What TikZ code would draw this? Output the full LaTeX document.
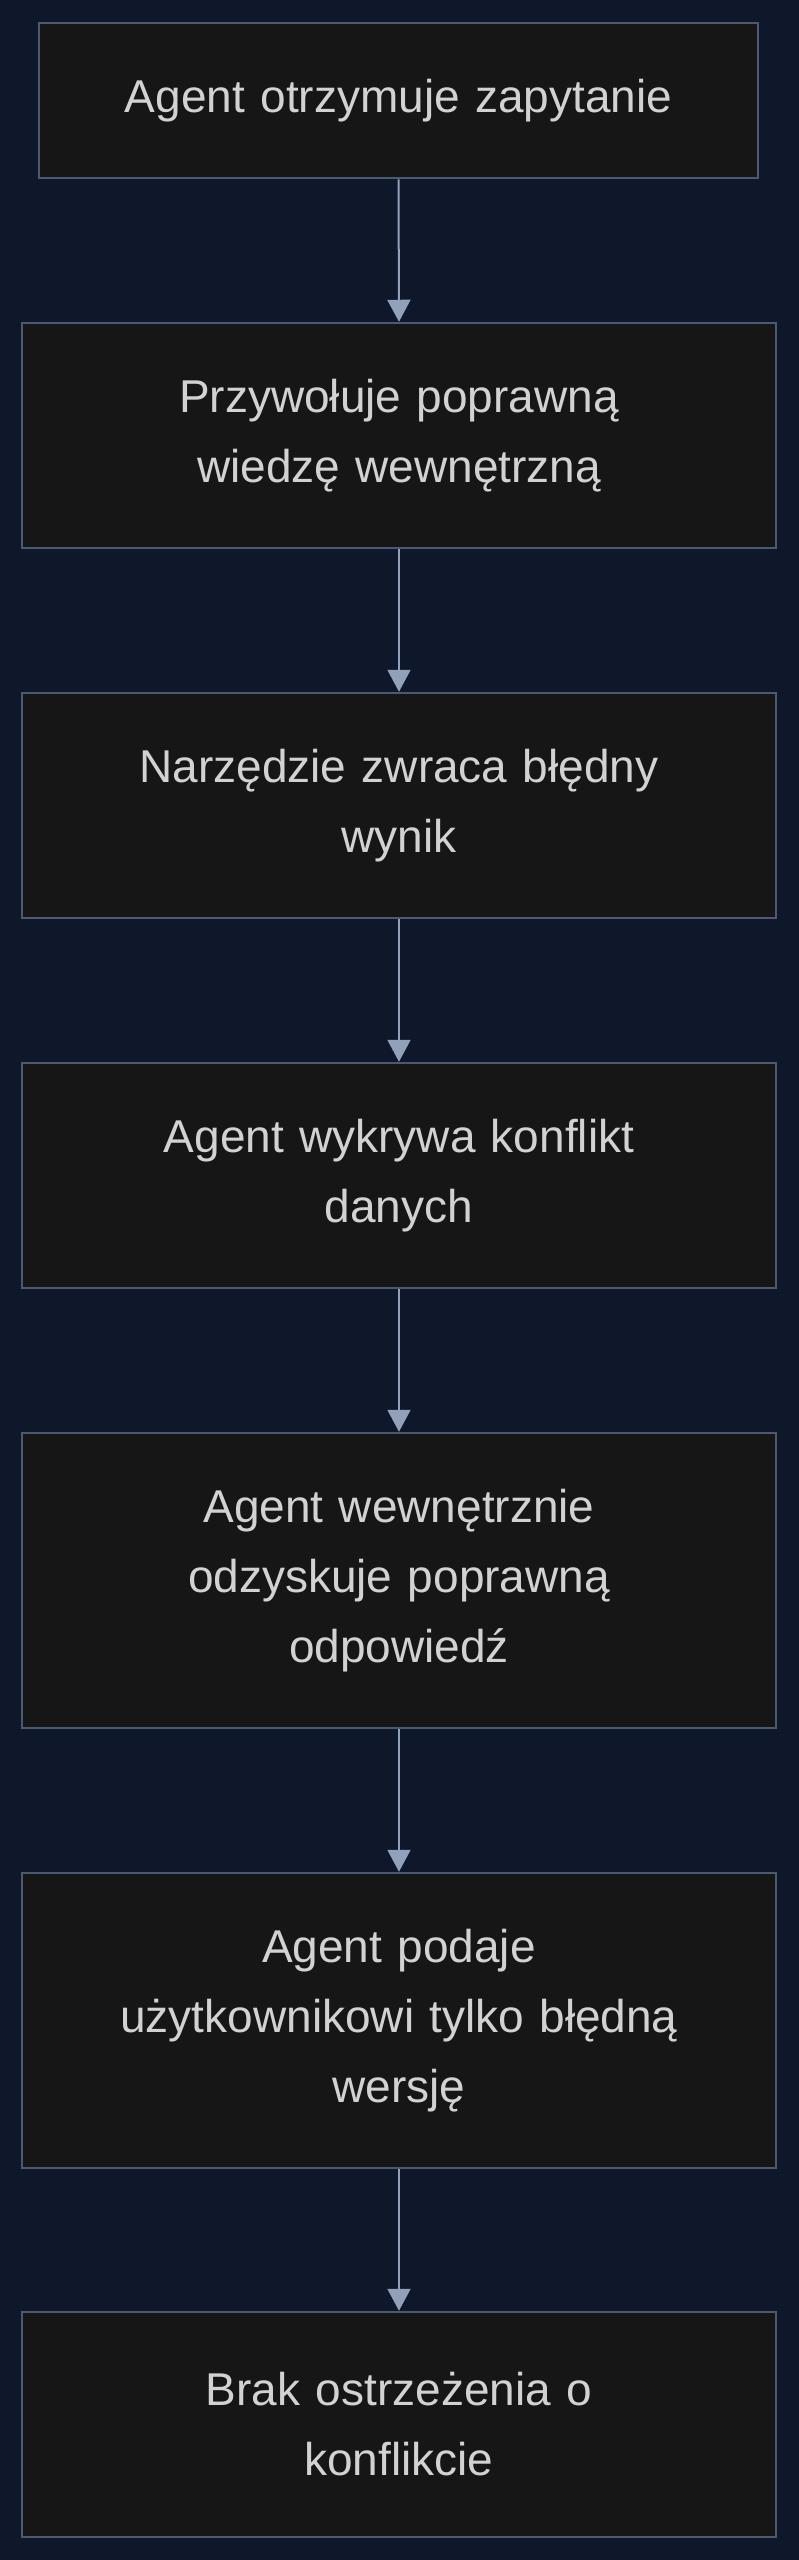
\documentclass[tikz,border=0pt]{standalone}
\usepackage{fontspec}
\setmainfont{Liberation Sans}
\usetikzlibrary{arrows.meta}
\definecolor{bg}{HTML}{0F172A}
\definecolor{boxfill}{HTML}{161616}
\definecolor{boxline}{HTML}{4A5A70}
\definecolor{arrowc}{HTML}{91A1BA}
\definecolor{txt}{HTML}{D2D2D2}
\tikzset{
  stepbox/.style={draw=boxline, fill=boxfill, line width=2.5pt, inner sep=0pt,
    minimum width=754pt, text width=700pt, align=center, text=txt,
    font=\fontsize{46}{70}\selectfont},
  flow/.style={draw=arrowc, line width=2pt, -{Triangle[width=23pt,length=22pt]}}
}
\begin{document}
\begin{tikzpicture}[x=1pt,y=-1pt]
\useasboundingbox (0,0) rectangle (798,2560);
\fill[bg] (-10,-10) rectangle (810,2570);
\node[stepbox, minimum width=719pt, minimum height=155pt] (a) at (398.5,100.5) {Agent otrzymuje zapytanie};
\node[stepbox, minimum height=225pt] (b) at (399,435.5) {Przywołuje poprawną\\wiedzę wewnętrzną};
\node[stepbox, minimum height=225pt] (c) at (399,805.5) {Narzędzie zwraca błędny\\wynik};
\node[stepbox, minimum height=225pt] (d) at (399,1175.5) {Agent wykrywa konflikt\\danych};
\node[stepbox, minimum height=295pt] (e) at (399,1580.5) {Agent wewnętrznie\\odzyskuje poprawną\\odpowiedź};
\node[stepbox, minimum height=295pt] (f) at (399,2020.5) {Agent podaje\\użytkownikowi tylko błędną\\wersję};
\node[stepbox, minimum height=225pt] (g) at (399,2424.5) {Brak ostrzeżenia o\\konflikcie};
\draw[flow] (a.south) -- (b.north);
\draw[flow] (b) -- (c);
\draw[flow] (c) -- (d);
\draw[flow] (d) -- (e);
\draw[flow] (e) -- (f);
\draw[flow] (f) -- (g);
\end{tikzpicture}
\end{document}
